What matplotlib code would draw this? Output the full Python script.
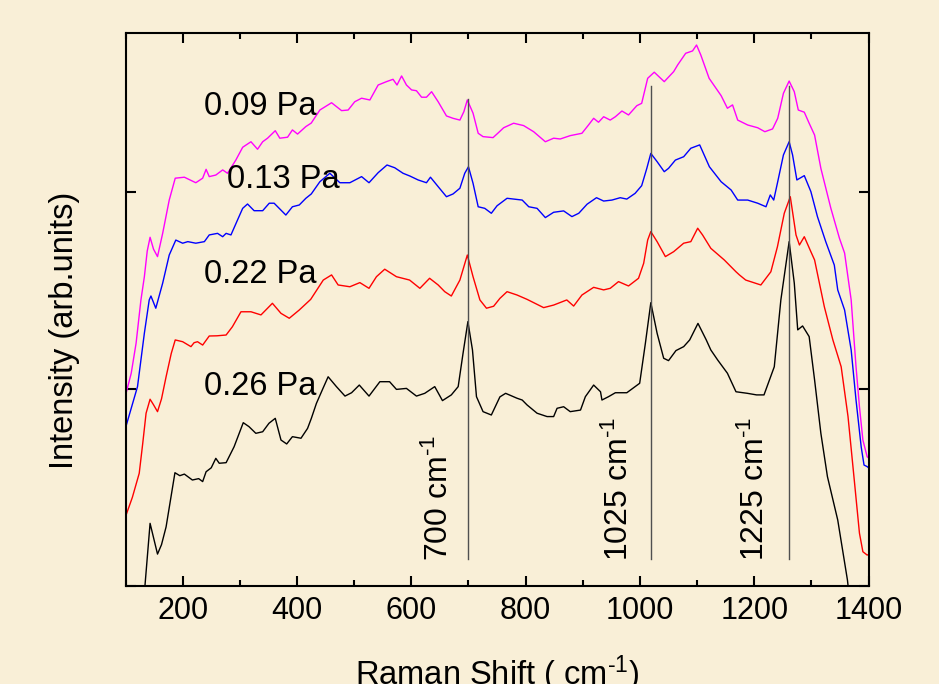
import numpy as np
import matplotlib
matplotlib.use("Agg")
import matplotlib.pyplot as plt
from matplotlib.ticker import MultipleLocator

plt.rcParams['font.family'] = ['Liberation Sans', 'DejaVu Sans']
plt.rcParams['mathtext.fontset'] = 'custom'
plt.rcParams['mathtext.rm'] = 'Liberation Sans'
plt.rcParams['mathtext.it'] = 'Liberation Sans'

# spectra: Raman shift (cm-1), intensity (arb. units, offset)
x_026 = [130, 134, 143, 156, 163, 171, 186.5, 195, 203, 217, 228, 235, 241, 250, 258, 264, 276,
         290, 306, 316, 328, 340, 351, 362, 372, 382, 392, 407, 418.5, 425, 434, 445, 454.5, 469,
         484, 495.5, 509, 526, 545, 562, 574, 591.5, 609, 623.5, 641, 654.5, 670, 682, 690.5, 699,
         707, 714, 725.5, 740, 755, 765, 785, 794, 802.5, 820, 837.5, 849, 855, 866.5, 878, 896,
         904.5, 919, 931, 933.5, 945, 957, 977, 999.5, 1009.5, 1019, 1030, 1041.5, 1050, 1063,
         1076.5, 1087, 1101.5, 1116, 1124, 1136, 1153, 1168, 1188, 1204, 1217, 1235, 1246.5, 1261,
         1270, 1276, 1284.5, 1296, 1305.5, 1316.5, 1328, 1346, 1363, 1366]
y_026 = [-0.05, 0.0, 0.318, 0.162, 0.21, 0.30, 0.575, 0.56, 0.568, 0.538, 0.545, 0.53, 0.58, 0.60,
         0.648, 0.623, 0.626, 0.707, 0.829, 0.809, 0.775, 0.783, 0.826, 0.851, 0.741, 0.721, 0.758,
         0.75, 0.80, 0.85, 0.927, 1.00, 1.062, 1.012, 0.964, 0.981, 1.02, 0.964, 1.037, 1.037, 0.998,
         1.003, 0.964, 0.978, 1.012, 0.941, 0.97, 1.012, 1.181, 1.342, 1.198, 0.961, 0.885, 0.868,
         0.96, 0.978, 0.953, 0.944, 0.919, 0.877, 0.86, 0.86, 0.902, 0.91, 0.885, 0.893, 0.961, 1.02,
         0.986, 0.944, 0.961, 0.981, 0.981, 1.029, 1.232, 1.438, 1.283, 1.156, 1.144, 1.195, 1.215,
         1.249, 1.333, 1.249, 1.198, 1.147, 1.08, 0.986, 0.978, 0.97, 0.97, 1.113, 1.452, 1.748,
         1.537, 1.30, 1.32, 1.266, 1.046, 0.775, 0.555, 0.335, 0.03, -0.05]

x_022 = [101, 112, 124, 130, 136, 143, 149, 156, 163, 171, 180, 187, 200, 214.5, 220, 226, 235,
         246.5, 260, 276, 287, 302, 319.5, 337, 357, 372, 386.5, 404, 424, 446, 460.5, 472, 492.5,
         510, 526, 539, 553.5, 574, 597, 615, 632, 647, 658.5, 670, 685, 698, 708, 720, 731.5, 744,
         755, 767.5, 785, 802.5, 831.5, 849, 872, 884, 898.5, 919, 936.5, 948, 962.5, 980, 997.5,
         1006.5, 1013.5, 1019, 1030, 1044.5, 1059, 1076.5, 1089, 1101, 1109.5, 1124, 1147.5, 1168,
         1174, 1185, 1211.5, 1229, 1240.5, 1252.5, 1263, 1273, 1279, 1287.5, 1299, 1305.5, 1322.5,
         1337.5, 1352, 1364, 1375.5, 1384, 1390, 1397.5, 1400]
y_022 = [0.36, 0.45, 0.572, 0.72, 0.877, 0.948, 0.92, 0.885, 0.95, 1.062, 1.18, 1.249, 1.24, 1.215,
         1.235, 1.24, 1.223, 1.269, 1.27, 1.274, 1.316, 1.392, 1.392, 1.376, 1.435, 1.384, 1.359,
         1.401, 1.455, 1.553, 1.579, 1.528, 1.519, 1.54, 1.511, 1.57, 1.608, 1.57, 1.553, 1.511,
         1.562, 1.528, 1.494, 1.472, 1.553, 1.68, 1.57, 1.452, 1.41, 1.42, 1.46, 1.494, 1.477, 1.455,
         1.413, 1.426, 1.452, 1.421, 1.477, 1.516, 1.503, 1.511, 1.545, 1.523, 1.562, 1.638, 1.756,
         1.799, 1.748, 1.672, 1.697, 1.74, 1.748, 1.816, 1.782, 1.714, 1.655, 1.595, 1.579, 1.553,
         1.528, 1.595, 1.722, 1.892, 1.976, 1.782, 1.731, 1.773, 1.697, 1.655, 1.418, 1.249, 1.113,
         0.86, 0.521, 0.268, 0.174, 0.157, 0.16]

x_013 = [101, 121, 133, 141.5, 144.5, 153, 165, 176.5, 188, 200, 209, 223, 238, 246.5, 261, 270,
         276, 284.5, 296, 305, 313.5, 325, 340, 351.5, 360, 380.5, 392, 404, 415.5, 425, 440,
         457.5, 475, 492.5, 513, 526, 542, 557.5, 571, 585.5, 597.5, 612, 626.5, 633.5, 647, 661.5,
         673, 685, 693.5, 700, 708, 717, 728.5, 740, 750, 767.5, 794, 805.5, 820, 834.5, 849, 866.5,
         881, 893, 907.5, 924, 936.5, 951, 965.5, 977, 991.5, 1003, 1012, 1019, 1030, 1042.5, 1050,
         1062, 1076.5, 1089, 1104.5, 1121.5, 1142, 1159.5, 1171, 1188.5, 1206, 1220.5, 1228, 1234,
         1241, 1251, 1261, 1267, 1274.5, 1287.5, 1299, 1310.5, 1325, 1340, 1346, 1358, 1369.5,
         1378, 1387, 1392, 1397.5, 1400]
y_013 = [0.812, 1.012, 1.283, 1.452, 1.472, 1.41, 1.537, 1.68, 1.756, 1.74, 1.748, 1.74, 1.748,
         1.782, 1.79, 1.773, 1.79, 1.782, 1.858, 1.917, 1.939, 1.905, 1.905, 1.943, 1.943, 1.883,
         1.925, 1.934, 1.968, 1.99, 2.052, 2.095, 2.047, 2.047, 2.078, 2.047, 2.098, 2.137, 2.123,
         2.095, 2.081, 2.061, 2.047, 2.075, 2.027, 1.976, 1.99, 2.019, 2.095, 2.128, 2.044, 1.925,
         1.917, 1.892, 1.93, 1.968, 1.959, 1.925, 1.917, 1.87, 1.897, 1.904, 1.875, 1.892, 1.938,
         1.971, 1.954, 1.959, 1.971, 1.964, 1.993, 2.032, 2.12, 2.196, 2.154, 2.103, 2.12, 2.162,
         2.179, 2.222, 2.239, 2.128, 2.052, 2.01, 1.959, 1.959, 1.943, 1.925, 1.985, 1.959, 2.052,
         2.188, 2.255, 2.188, 2.061, 2.083, 2.002, 1.875, 1.748, 1.629, 1.503, 1.401, 1.198, 0.944,
         0.707, 0.614, 0.606, 0.60]

x_009 = [101, 110, 118.5, 127, 133, 138, 143, 149, 156, 165, 176.5, 187, 203, 223, 235, 241, 246.5,
         258, 270, 278.5, 293, 305, 319.5, 331, 340, 348.5, 362, 370, 383.5, 392, 401, 415.5, 425,
         440, 460.5, 478, 489.5, 501, 513, 527.5, 542, 556.5, 568, 575, 583, 591.5, 600.5, 609, 618,
         626.5, 635.5, 647, 661.5, 673, 685, 692, 698, 708, 717, 725.5, 743, 752, 761.5, 779, 796.5,
         814, 834.5, 849, 860.5, 878, 898.5, 910, 919, 927.5, 936.5, 948, 957, 968.5, 980, 994.5,
         1003, 1013.5, 1025, 1042.5, 1059, 1066, 1080, 1092, 1099, 1106.5, 1121, 1142, 1153, 1162,
         1171, 1188.5, 1206, 1218.5, 1232, 1241, 1251, 1261, 1270, 1277, 1287.5, 1296, 1305.5,
         1316.5, 1334, 1349, 1358, 1369.5, 1378, 1384, 1390, 1397.5, 1400]
y_009 = [0.978, 1.08, 1.232, 1.452, 1.57, 1.70, 1.77, 1.71, 1.672, 1.79, 1.959, 2.07, 2.075, 2.047,
         2.07, 2.115, 2.078, 2.086, 2.112, 2.095, 2.162, 2.227, 2.255, 2.217, 2.255, 2.273, 2.311,
         2.273, 2.278, 2.315, 2.294, 2.332, 2.35, 2.416, 2.453, 2.413, 2.416, 2.458, 2.476, 2.467,
         2.543, 2.56, 2.572, 2.543, 2.589, 2.543, 2.518, 2.514, 2.481, 2.481, 2.509, 2.458, 2.386,
         2.374, 2.365, 2.408, 2.467, 2.40, 2.298, 2.281, 2.276, 2.30, 2.326, 2.349, 2.337, 2.306,
         2.255, 2.273, 2.269, 2.286, 2.298, 2.34, 2.374, 2.354, 2.382, 2.365, 2.382, 2.411, 2.391,
         2.438, 2.45, 2.577, 2.608, 2.56, 2.611, 2.645, 2.704, 2.716, 2.746, 2.695, 2.577, 2.489,
         2.425, 2.442, 2.365, 2.34, 2.326, 2.306, 2.32, 2.374, 2.501, 2.563, 2.509, 2.416, 2.405,
         2.349, 2.289, 2.12, 1.917, 1.765, 1.69, 1.452, 1.113, 0.91, 0.741, 0.656, 0.65]

pressure_labels = ['0.09 Pa', '0.13 Pa', '0.22 Pa', '0.26 Pa']
label_x = [237, 277, 237, 237]
label_y = [2.391, 2.02, 1.538, 0.97]

peak_pos = [698.5, 1019, 1261]
peak_top = [2.47, 2.538, 2.538]
peak_labels = [r'700 cm$^{\text{-1}}$', r'1025 cm$^{\text{-1}}$', r'1225 cm$^{\text{-1}}$']
peak_label_x = [676, 991, 1230]

bg = '#f9efd7'

fig = plt.figure(figsize=(9.39, 6.84), dpi=100)
fig.patch.set_facecolor(bg)
ax = fig.add_axes([125.5/939, 98/684, 743.1/939, 553/684])
ax.set_facecolor(bg)

ax.plot(x_009, y_009, color='#ff00ff', lw=1.0)
ax.plot(x_013, y_013, color='#0000ff', lw=1.0)
ax.plot(x_022, y_022, color='#ff0000', lw=1.0)
ax.plot(x_026, y_026, color='black', lw=1.0)

for i in range(len(peak_pos)):
    ax.plot([peak_pos[i], peak_pos[i]], [0.137, peak_top[i]], color='#505050', lw=1.0)
    ax.text(peak_label_x[i], 0.125, peak_labels[i], rotation=90, fontsize=23,
            ha='right', va='bottom')

for i in range(len(pressure_labels)):
    ax.text(label_x[i], label_y[i], pressure_labels[i], fontsize=23.5, va='baseline', ha='left')

ax.set_xlim(100, 1400)
ax.set_ylim(0, 2.807)
ax.xaxis.set_major_locator(MultipleLocator(200))
ax.xaxis.set_minor_locator(MultipleLocator(100))
ax.set_yticks([0, 1, 2])
ax.tick_params(which='both', direction='in', top=True, right=True, width=1.5, labelsize=22)
ax.tick_params(which='major', length=7.5, pad=7)
ax.tick_params(which='minor', length=4)
ax.tick_params(axis='y', labelleft=False)
for s in ax.spines.values():
    s.set_linewidth(1.5)

fig.text(65/939, 1 - 330/684, 'Intensity (arb.units)', rotation=90, fontsize=23.5,
         ha='center', va='center')
fig.text(497/939, -1/684, r'Raman Shift ( cm$^{\text{-1}}$)', fontsize=23.5, ha='center',
         va='baseline')

plt.savefig('out.png', dpi=100, facecolor=bg)
